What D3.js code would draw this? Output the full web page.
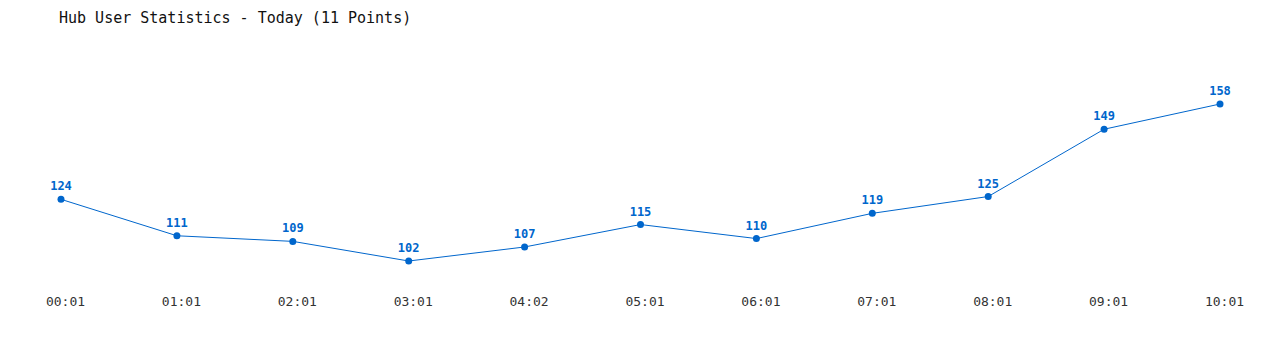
<!DOCTYPE html>
<html>
<head>
<meta charset="utf-8">
<script src="https://cdn.jsdelivr.net/npm/d3@7"></script>
<style>
  body { margin: 0; background: #fff; }
  svg { display: block; }
</style>
</head>
<body>
<div id="chart"></div>
<script>
const times = ["00:01", "01:01", "02:01", "03:01", "04:02", "05:01", "06:01", "07:01", "08:01", "09:01", "10:01"];
const users = [124, 111, 109, 102, 107, 115, 110, 119, 125, 149, 158];
const title = "Hub User Statistics - Today (11 Points)";

const width = 1280, height = 350;
const font = "'DejaVu Sans Mono', 'Liberation Mono', monospace";
const blue = "#0066cc";

const svg = d3.select("#chart").append("svg")
    .attr("width", width)
    .attr("height", height);

svg.append("text")
    .attr("x", 59)
    .attr("y", 23)
    .attr("font-family", font)
    .attr("font-size", "15px")
    .attr("fill", "#111")
    .text(title);

const x = d3.scalePoint()
    .domain(times)
    .range([61, 1220]);

const y = d3.scaleLinear()
    .domain([d3.min(users), d3.max(users)])
    .range([261, 104]);

const data = times.map((t, i) => ({ t, v: users[i] }));

const line = d3.line()
    .x(d => x(d.t))
    .y(d => y(d.v));

svg.append("path")
    .datum(data)
    .attr("fill", "none")
    .attr("stroke", blue)
    .attr("stroke-width", 1)
    .attr("d", line);

svg.selectAll(".dot")
    .data(data)
    .enter()
    .append("circle")
    .attr("class", "dot")
    .attr("cx", d => x(d.t))
    .attr("cy", d => y(d.v))
    .attr("r", 3.5)
    .attr("fill", blue);

svg.selectAll(".val")
    .data(data)
    .enter()
    .append("text")
    .attr("class", "val")
    .attr("x", d => x(d.t))
    .attr("y", d => y(d.v) - 9)
    .attr("text-anchor", "middle")
    .attr("font-family", font)
    .attr("font-size", "12px")
    .attr("font-weight", "bold")
    .attr("fill", blue)
    .text(d => d.v);

// x axis labels only, no line
const xAxis = d3.axisBottom(x).tickSize(0).tickPadding(0);
const gx = svg.append("g")
    .attr("transform", "translate(4,297)")
    .call(xAxis);
gx.select(".domain").remove();
gx.selectAll("text")
    .attr("font-family", font)
    .attr("font-size", "13px")
    .attr("fill", "#333");
</script>
</body>
</html>
